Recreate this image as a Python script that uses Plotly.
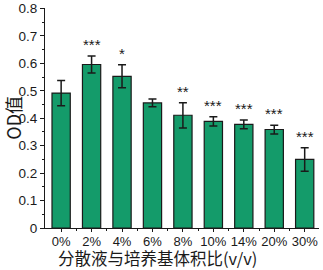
import plotly.graph_objects as go

categories = ["0%", "2%", "4%", "6%", "8%", "10%", "14%", "20%", "30%"]
od_values = [0.492, 0.596, 0.553, 0.456, 0.411, 0.389, 0.378, 0.359, 0.250]
od_errors = [0.046, 0.031, 0.042, 0.014, 0.046, 0.017, 0.016, 0.016, 0.043]
significance = ["", "***", "*", "", "**", "***", "***", "***", "***"]
y_ticks = [0, 0.1, 0.2, 0.3, 0.4, 0.5, 0.6, 0.7, 0.8]
y_tick_labels = ["0", "0.1", "0.2", "0.3", "0.4", "0.5", "0.6", "0.7", "0.8"]
x_title = "分散液与培养基体积比(v/v)"
y_title = "OD值"

x_idx = list(range(len(categories)))
font_family = "Liberation Sans, Arial, sans-serif"
cjk = "Noto Sans CJK SC"

fig = go.Figure()
fig.add_trace(go.Bar(
    x=x_idx, y=od_values, width=0.6,
    marker=dict(color="#149b6a", line=dict(color="#1a1a1a", width=1.2)),
    error_y=dict(type="data", array=od_errors, visible=True, color="#1a1a1a",
                 thickness=1.5, width=4),
))

for xi, v, e, s in zip(x_idx, od_values, od_errors, significance):
    if s:
        fig.add_annotation(x=xi, y=v + e, text=s, showarrow=False,
                           yanchor="bottom", yshift=1,
                           font=dict(size=15, color="#1a1a1a", family=font_family))

fig.add_annotation(xref="paper", yref="paper", x=-0.118, y=0.5, text=y_title,
                   showarrow=False, textangle=-90, xanchor="center", yanchor="middle",
                   borderpad=0,
                   font=dict(size=18, family=cjk, color="#1a1a1a"))
fig.add_annotation(xref="paper", yref="paper", x=0.41, y=-0.076, text=x_title,
                   showarrow=False, xanchor="center", yanchor="top", borderpad=0,
                   font=dict(size=16.5, family=cjk, color="#1a1a1a"))

fig.update_layout(
    width=323, height=270,
    margin=dict(l=45, r=4, t=8, b=42, autoexpand=False),
    plot_bgcolor="white", paper_bgcolor="white",
    showlegend=False,
    font=dict(family=font_family, color="#1a1a1a"),
    xaxis=dict(
        range=[-0.53, 8.47], tickvals=x_idx, ticktext=categories,
        showline=True, linecolor="#1a1a1a", linewidth=1.2,
        ticks="outside", ticklen=3, tickcolor="#1a1a1a", ticklabelstandoff=-2,
        minor=dict(tickvals=[i + 0.5 for i in x_idx[:-1]], ticks="outside", ticklen=2, tickcolor="#1a1a1a"),
        tickfont=dict(size=13), showgrid=False, zeroline=False,
    ),
    yaxis=dict(
        range=[0, 0.802], tickvals=y_ticks, ticktext=y_tick_labels,
        showline=True, linecolor="#1a1a1a", linewidth=1.2,
        ticks="outside", ticklen=4, tickcolor="#1a1a1a",
        minor=dict(dtick=0.05, ticks="outside", ticklen=2, tickcolor="#1a1a1a"),
        tickfont=dict(size=13.5), showgrid=False, zeroline=False,
    ),
)

fig.write_html("out.html", config={"displayModeBar": False},
               post_script="document.body.style.margin='0';document.body.style.overflow='hidden';")
